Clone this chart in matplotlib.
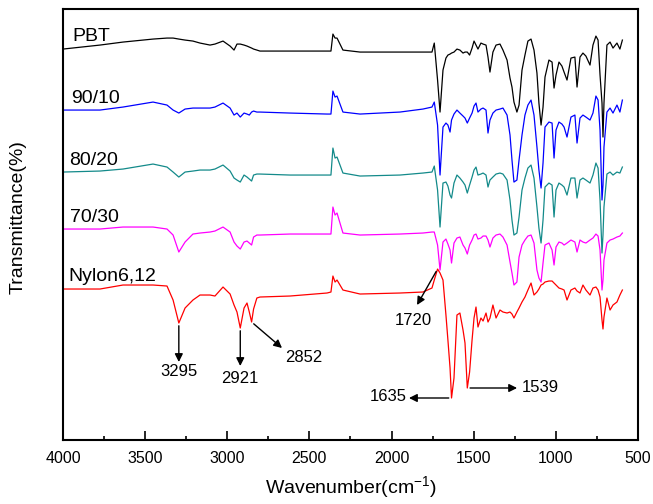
import matplotlib
matplotlib.use("Agg")
import matplotlib.pyplot as plt
from matplotlib.ticker import MultipleLocator

plt.rcParams['font.family'] = ['Liberation Sans', 'DejaVu Sans']
plt.rcParams['mathtext.default'] = 'regular'

# wavenumber grid (cm-1) shared by all spectra
wavenumber = [4000, 3775, 3635, 3452, 3367, 3330, 3295, 3257, 3209, 3166,
              3105, 3075, 3026, 2983, 2959, 2941, 2921, 2898, 2880, 2866,
              2852, 2840, 2820, 2801, 2618, 2393, 2369, 2357, 2344, 2332,
              2296, 2192, 1949, 1809, 1754, 1740, 1720, 1705, 1687, 1669,
              1657, 1644, 1635, 1620, 1602, 1584, 1565, 1553, 1539, 1525,
              1510, 1498, 1486, 1474, 1456, 1443, 1425, 1413, 1401, 1383,
              1364, 1340, 1322, 1297, 1279, 1267, 1255, 1237, 1224, 1206,
              1188, 1170, 1151, 1133, 1115, 1103, 1090, 1078, 1066, 1042,
              1023, 1011, 999, 981, 963, 950, 932, 908, 884, 871,
              853, 835, 817, 792, 774, 756, 743, 731, 719, 713,
              707, 689, 670, 652, 628, 610, 595]

# transmittance (arbitrary units, curves stacked with offsets)
t_pbt = [401, 405, 408, 411, 412, 412, 411, 410, 409, 407,
         405, 406, 409, 404, 400, 406, 406, 405, 404, 403,
         402, 401, 400, 399, 399, 399, 399, 416, 412, 412,
         400, 398, 398, 398, 398, 407, 370, 338, 380, 392,
         395, 396, 397, 398, 401, 400, 397, 398, 398, 395,
         402, 409, 405, 401, 407, 406, 405, 393, 378, 398,
         405, 406, 400, 390, 372, 363, 348, 338, 345, 380,
         395, 409, 411, 400, 377, 347, 325, 343, 373, 390,
         388, 362, 375, 388, 384, 378, 370, 392, 393, 363,
         393, 397, 394, 385, 405, 414, 410, 375, 347, 313,
         347, 405, 408, 402, 407, 401, 410]

t_9010 = [340, 340, 343, 348, 345, 340, 337, 341, 342, 342,
          342, 343, 347, 342, 335, 337, 333, 337, 336, 335,
          338, 339, 338, 338, 337, 336, 336, 359, 353, 354,
          338, 336, 338, 341, 343, 348, 325, 275, 323, 327,
          325, 318, 330, 336, 340, 337, 334, 332, 327, 332,
          337, 344, 347, 338, 341, 342, 340, 317, 330, 337,
          340, 341, 342, 335, 315, 290, 268, 270, 290, 315,
          335, 345, 350, 335, 303, 280, 262, 287, 323, 328,
          327, 292, 320, 328, 326, 323, 313, 333, 335, 307,
          332, 335, 333, 330, 337, 354, 350, 320, 250, 265,
          303, 338, 342, 337, 345, 338, 350]

t_8020 = [278, 279, 281, 286, 283, 278, 273, 278, 279, 280,
          280, 281, 285, 279, 272, 270, 268, 275, 273, 271,
          269, 275, 276, 276, 275, 275, 275, 302, 292, 293,
          277, 274, 275, 277, 278, 284, 260, 223, 267, 268,
          264, 255, 252, 267, 275, 272, 268, 265, 257, 265,
          273, 280, 283, 275, 276, 277, 275, 263, 270, 273,
          276, 277, 276, 270, 250, 230, 215, 217, 233, 260,
          272, 282, 285, 272, 243, 222, 207, 230, 263, 267,
          265, 233, 260, 267, 265, 263, 255, 272, 272, 252,
          270, 272, 270, 267, 275, 287, 282, 250, 197, 215,
          243, 276, 278, 275, 278, 277, 283]

t_7030 = [221, 221, 223, 223, 221, 215, 198, 208, 216, 217,
          218, 219, 223, 218, 208, 204, 201, 208, 209, 207,
          205, 213, 215, 215, 216, 216, 216, 243, 235, 237,
          217, 215, 216, 217, 218, 218, 205, 180, 208, 211,
          206, 200, 187, 207, 212, 213, 205, 202, 196, 205,
          210, 215, 216, 211, 212, 214, 214, 210, 203, 212,
          215, 216, 213, 205, 188, 177, 165, 168, 193, 205,
          210, 214, 215, 207, 180, 172, 168, 187, 205, 207,
          200, 185, 203, 208, 207, 205, 207, 210, 208, 198,
          210, 208, 207, 210, 212, 216, 214, 200, 160, 170,
          190, 207, 210, 211, 213, 214, 217]

t_nylon = [161, 161, 165, 165, 164, 150, 127, 142, 150, 155,
           155, 154, 163, 156, 145, 138, 122, 142, 147, 138,
           128, 141, 152, 153, 154, 157, 158, 174, 168, 170,
           160, 156, 157, 158, 162, 170, 181, 177, 170, 135,
           110, 82, 52, 72, 135, 137, 120, 107, 62, 78,
           110, 132, 143, 123, 132, 129, 137, 128, 132, 145,
           132, 140, 138, 137, 138, 136, 132, 138, 142, 148,
           153, 160, 167, 155, 158, 161, 165, 166, 168, 169,
           169, 167, 165, 162, 161, 160, 150, 160, 162, 159,
           157, 165, 160, 155, 162, 163, 160, 153, 130, 121,
           133, 152, 140, 145, 148, 155, 160]

series = [t_pbt, t_9010, t_8020, t_7030, t_nylon]
names = ['PBT', '90/10', '80/20', '70/30', 'Nylon6,12']
colors = ['black', '#0000ff', '#138a8a', '#ff00ff', '#ff0000']
name_pos = [(3945, 409), (3950, 347), (3960, 285), (3960, 228), (3965, 169)]

# nylon band assignments: (band, arrow tip, label position, alignment)
bands = [1720, 1635, 1539, 3295, 2921, 2852]
band_tips = [(1845, 145), (1894, 52), (1236, 62), (3295, 88), (2921, 84), (2667, 102)]
band_text = [(1870, 137), (1906, 53), (1206, 63), (3295, 86), (2926, 79), (2649, 93)]
band_align = [('center', 'top'), ('right', 'center'), ('left', 'center'),
              ('center', 'top'), ('center', 'top'), ('left', 'center')]

fig = plt.figure(figsize=(6.53, 5.04), dpi=100)
ax = fig.add_axes([0.0965, 0.127, 0.8805, 0.855])

for t, c in zip(series, colors):
    ax.plot(wavenumber, t, color=c, lw=0.9)

for name, (x, y) in zip(names, name_pos):
    ax.text(x, y, name, fontsize=14, ha='left', va='baseline')

for band, tip, txt, (ha, va) in zip(bands, band_tips, band_text, band_align):
    y0 = t_nylon[wavenumber.index(band)]
    ax.annotate('', xy=tip, xytext=(band, y0),
                arrowprops=dict(arrowstyle='-|>', color='black', lw=1,
                                shrinkA=2, shrinkB=0, mutation_scale=12))
    ax.text(txt[0], txt[1], str(band), fontsize=12, ha=ha, va=va)

ax.set_xlim(4000, 500)
ax.set_ylim(10, 441)
ax.xaxis.set_major_locator(MultipleLocator(500))
ax.xaxis.set_minor_locator(MultipleLocator(250))
ax.tick_params(axis='x', which='both', direction='in', top=False, labelsize=11.5, pad=8, width=1.2)
ax.tick_params(axis='x', which='major', length=6.5)
ax.tick_params(axis='x', which='minor', length=3)
ax.set_yticks([])
for s in ax.spines.values():
    s.set_linewidth(1.5)

ax.set_xlabel('Wavenumber(cm$^{-1}$)', fontsize=14, labelpad=6)
ax.set_ylabel('Transmittance(%)', fontsize=14)
ax.yaxis.set_label_coords(-0.063, 0.517)

fig.savefig('out.png', dpi=100)
